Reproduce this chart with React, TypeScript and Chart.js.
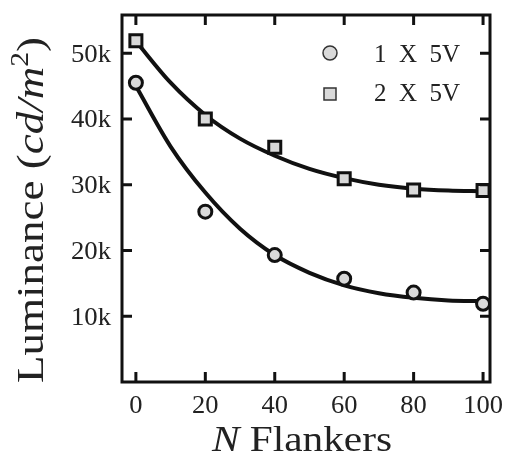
import React, { useEffect, useRef } from "react";
import { Chart, registerables } from "chart.js";

Chart.register(...registerables);

const nFlankers = [0, 20, 40, 60, 80, 100];
const lum1x5V = [45500, 25900, 19300, 15700, 13600, 11900];
const lum2x5V = [51900, 40000, 35700, 30900, 29200, 29100];

const fitX = [0, 10, 20, 30, 40, 50, 60, 70, 80, 90, 100];
const fit1x5V = [45000, 35800, 28800, 23300, 19300, 16600, 14700, 13500, 12800, 12400, 12300];
const fit2x5V = [51800, 45500, 40600, 37000, 34400, 32400, 31000, 30000, 29400, 29100, 29000];

const xTicks = [0, 20, 40, 60, 80, 100];
const yTicks = [10000, 20000, 30000, 40000, 50000];

const seriesLabels = ["1 X 5V", "2 X 5V"];

const FONT = "'Liberation Serif', 'DejaVu Serif', serif";
const MARKER_FILL = "#d9d9d9";
const INK = "#111111";
const TEXT = "#222222";

type Part = { t: string; f: string; dy: number };

function drawParts(ctx: any, parts: Part[], x: number, y: number, sx: number, align: string, targetWidth?: number) {
  let w = 0;
  parts.forEach((p) => {
    ctx.font = p.f;
    w += ctx.measureText(p.t).width;
  });
  const s = targetWidth ? targetWidth / w : sx;
  const total = w * s;
  let start = x;
  if (align === "center") start = x - total / 2;
  else if (align === "right") start = x - total;
  ctx.save();
  ctx.translate(start, y);
  ctx.scale(s, 1);
  ctx.textAlign = "left";
  ctx.textBaseline = "alphabetic";
  let cx = 0;
  parts.forEach((p) => {
    ctx.font = p.f;
    ctx.fillText(p.t, cx, p.dy);
    cx += ctx.measureText(p.t).width;
  });
  ctx.restore();
}

const framePlugin = {
  id: "framePlugin",
  afterDraw(chart: any) {
    const { ctx, chartArea, scales } = chart;
    const { left, right, top, bottom } = chartArea;
    const xs = scales.x;
    const ys = scales.y;
    ctx.save();
    ctx.strokeStyle = INK;
    ctx.lineWidth = 3;
    ctx.lineCap = "butt";
    ctx.strokeRect(left, top, right - left, bottom - top);
    const tl = 10;
    ctx.beginPath();
    xTicks.forEach((v) => {
      const px = xs.getPixelForValue(v);
      ctx.moveTo(px, bottom);
      ctx.lineTo(px, bottom - tl);
      ctx.moveTo(px, top);
      ctx.lineTo(px, top + tl);
    });
    yTicks.forEach((v) => {
      const py = ys.getPixelForValue(v);
      ctx.moveTo(left, py);
      ctx.lineTo(left + tl, py);
      ctx.moveTo(right, py);
      ctx.lineTo(right - tl, py);
    });
    ctx.stroke();

    ctx.fillStyle = TEXT;
    const tickFont = `25px ${FONT}`;
    xTicks.forEach((v) => {
      const px = xs.getPixelForValue(v);
      drawParts(ctx, [{ t: String(v), f: tickFont, dy: 0 }], px, bottom + 31, 1.06, "center");
    });
    yTicks.forEach((v) => {
      const py = ys.getPixelForValue(v);
      drawParts(ctx, [{ t: `${Math.round(v / 1000)}k`, f: tickFont, dy: 0 }], left - 11, py + 8.5, 1.07, "right");
    });

    // legend
    const legX = 330;
    const rows = [53, 94];
    const baselines = [62, 101];
    rows.forEach((cy, i) => {
      ctx.save();
      ctx.fillStyle = MARKER_FILL;
      ctx.strokeStyle = "#333";
      ctx.lineWidth = 1.5;
      ctx.beginPath();
      if (i === 0) {
        ctx.arc(legX, cy, 7, 0, Math.PI * 2);
      } else {
        ctx.rect(legX - 6, cy - 6, 12, 12);
      }
      ctx.fill();
      ctx.stroke();
      ctx.restore();
      ctx.fillStyle = TEXT;
      drawParts(
        ctx,
        [{ t: seriesLabels[i].replace(/ /g, "\u2002"), f: `25px ${FONT}`, dy: 0 }],
        374,
        baselines[i],
        1,
        "left",
        86
      );
    });

    // x title
    const xf = 35;
    drawParts(
      ctx,
      [
        { t: "N", f: `italic ${xf}px ${FONT}`, dy: 0 },
        { t: " Flankers", f: `${xf}px ${FONT}`, dy: 0 },
      ],
      302,
      451,
      1,
      "center",
      180
    );

    // y title
    ctx.save();
    ctx.translate(43, 210);
    ctx.rotate(-Math.PI / 2);
    const yf = 38;
    drawParts(
      ctx,
      [
        { t: "Luminance (", f: `${yf}px ${FONT}`, dy: 0 },
        { t: "cd/m", f: `italic ${yf}px ${FONT}`, dy: 0 },
        { t: "2", f: `${Math.round(yf * 0.66)}px ${FONT}`, dy: -15 },
        { t: ")", f: `${yf}px ${FONT}`, dy: 0 },
      ],
      0,
      0,
      1,
      "center",
      346
    );
    ctx.restore();
    ctx.restore();
  },
};

export default function App() {
  const ref = useRef<HTMLCanvasElement>(null);
  useEffect(() => {
    document.body.style.margin = "0";
    const canvas = ref.current;
    if (!canvas) return;
    const chart = new Chart(canvas, {
      type: "scatter",
      data: {
        datasets: [
          {
            label: seriesLabels[0],
            data: nFlankers.map((x, i) => ({ x, y: lum1x5V[i] })),
            pointStyle: "circle",
            pointRadius: 6.5,
            pointBorderWidth: 3,
            pointBackgroundColor: MARKER_FILL,
            pointBorderColor: INK,
            order: 1,
          } as any,
          {
            label: seriesLabels[1],
            data: nFlankers.map((x, i) => ({ x, y: lum2x5V[i] })),
            pointStyle: "rect",
            pointRadius: 8.5,
            pointBorderWidth: 3,
            pointBackgroundColor: MARKER_FILL,
            pointBorderColor: INK,
            order: 1,
          } as any,
          {
            type: "line",
            label: "fit1",
            data: fitX.map((x, i) => ({ x, y: fit1x5V[i] })),
            showLine: true,
            borderColor: INK,
            borderWidth: 4,
            pointRadius: 0,
            cubicInterpolationMode: "monotone",
            order: 2,
          } as any,
          {
            type: "line",
            label: "fit2",
            data: fitX.map((x, i) => ({ x, y: fit2x5V[i] })),
            showLine: true,
            borderColor: INK,
            borderWidth: 4,
            pointRadius: 0,
            cubicInterpolationMode: "monotone",
            order: 2,
          } as any,
        ],
      },
      options: {
        animation: false,
        responsive: false,
        maintainAspectRatio: false,
        layout: { padding: { left: 0, right: 15, top: 15, bottom: 0 } },
        plugins: {
          legend: { display: false },
          tooltip: { enabled: false },
        },
        scales: {
          x: {
            type: "linear",
            min: -4,
            max: 102,
            grid: { display: false, drawTicks: false },
            border: { display: false },
            afterBuildTicks: (axis: any) => {
              axis.ticks = xTicks.map((v) => ({ value: v }));
            },
            afterFit: (axis: any) => {
              axis.height = 72;
            },
            ticks: { display: false },
          },
          y: {
            type: "linear",
            min: 0,
            max: 55800,
            grid: { display: false, drawTicks: false },
            border: { display: false },
            afterBuildTicks: (axis: any) => {
              axis.ticks = yTicks.map((v) => ({ value: v }));
            },
            afterFit: (axis: any) => {
              axis.width = 122;
            },
            ticks: { display: false },
          },
        },
      },
      plugins: [framePlugin],
    } as any);
    return () => chart.destroy();
  }, []);
  return (
    <div style={{ width: 505, height: 454 }}>
      <canvas ref={ref} width={505} height={454} style={{ display: "block" }} />
    </div>
  );
}
